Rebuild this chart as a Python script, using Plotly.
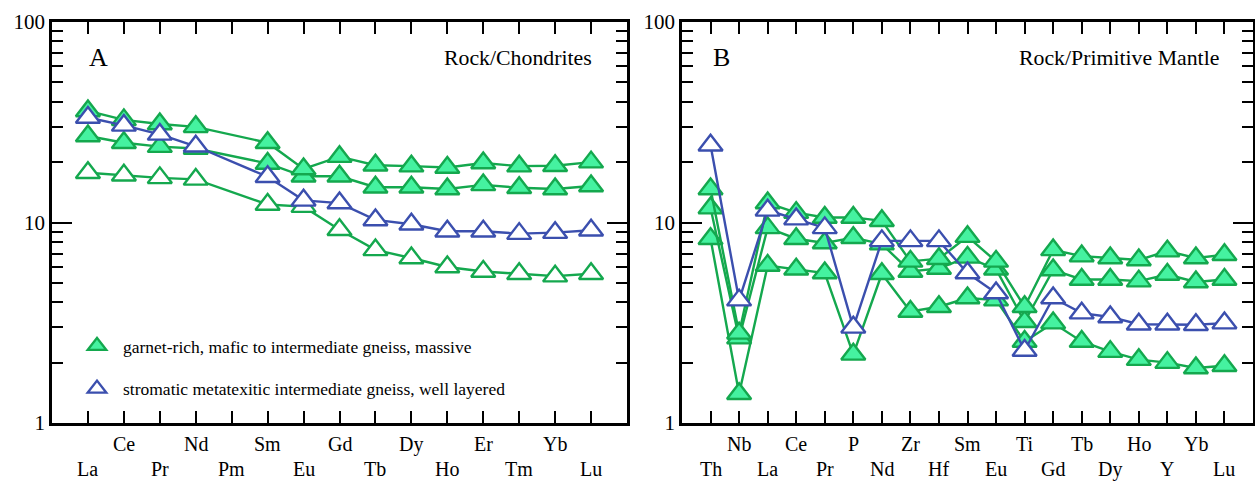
import plotly.graph_objects as go

# ---------------- data ----------------
ree_labels = ["La", "Ce", "Pr", "Nd", "Pm", "Sm", "Eu", "Gd", "Tb", "Dy", "Ho", "Er", "Tm", "Yb", "Lu"]
ree_g1 = [36.0, 32.5, 31.0, 30.0, None, 25.0, 18.5, 21.3, 19.3, 19.1, 18.8, 19.8, 19.1, 19.2, 20.0]
ree_g2 = [27.0, 25.0, 23.9, 23.4, None, 19.7, 17.0, 17.0, 15.0, 15.0, 14.7, 15.4, 14.9, 14.7, 15.2]
ree_g3 = [17.7, 17.2, 16.7, 16.4, None, 12.3, 12.0, 9.2, 7.3, 6.65, 6.0, 5.7, 5.55, 5.4, 5.55]
ree_blue = [33.4, 30.5, 27.5, 24.0, None, 16.9, 12.9, 12.5, 10.3, 9.8, 9.05, 9.05, 8.8, 8.9, 9.15]

pm_labels = ["Th", "Nb", "La", "Ce", "Pr", "P", "Nd", "Zr", "Hf", "Sm", "Eu", "Ti",
             "Gd", "Tb", "Dy", "Ho", "Y", "Yb", "Lu"]
pm_g1 = [14.7, 2.8, 12.5, 11.2, 10.6, 10.6, 10.2, 6.4, 6.6, 8.5, 6.4, 3.8, 7.3, 6.8, 6.65, 6.5, 7.2, 6.65, 6.9]
pm_g2 = [11.8, 2.65, 9.4, 8.3, 7.9, 8.4, 7.8, 5.7, 5.9, 6.7, 5.85, 3.2, 5.8, 5.2, 5.2, 5.1, 5.5, 5.05, 5.2]
pm_g3 = [8.3, 1.4, 6.1, 5.85, 5.6, 2.2, 5.55, 3.6, 3.8, 4.2, 4.1, 2.55, 3.15, 2.55, 2.27, 2.07, 2.0, 1.88, 1.93]
pm_blue = [24.3, 4.1, 11.5, 10.4, 9.4, 3.0, 8.1, 8.1, 8.1, 5.6, 4.45, 2.3, 4.2, 3.53, 3.38, 3.11, 3.11, 3.09, 3.15]

legend_names = ["garnet-rich, mafic to intermediate gneiss, massive",
                "stromatic metatexitic intermediate gneiss, well layered"]
y_tick_vals = [1, 10, 100]
y_tick_text = ["1", "10", "100"]

# ---------------- style ----------------
W, H = 1255, 484
FONT = "Liberation Serif"
GREEN_LINE = "#14a84e"
GREEN_FILL = "#45f2a0"
BLUE = "#3b4fae"
MS = 21
LW = 2.4

fig = go.Figure()


def marker(filled, color, size=MS):
    return dict(symbol="triangle-up", size=size,
                color=GREEN_FILL if filled else "white",
                line=dict(color=color, width=LW))


def add_series(x, y, xa, ya, filled, color):
    fig.add_trace(go.Scatter(
        x=x, y=y, xaxis=xa, yaxis=ya, mode="lines+markers", connectgaps=True,
        line=dict(color=color, width=LW), marker=marker(filled, color),
        showlegend=False, hoverinfo="skip"))


xa_idx = list(range(len(ree_labels)))
xb_idx = list(range(len(pm_labels)))

# Panel A
add_series(xa_idx, ree_g3, "x", "y", False, GREEN_LINE)
add_series(xa_idx, ree_g2, "x", "y", True, GREEN_LINE)
add_series(xa_idx, ree_g1, "x", "y", True, GREEN_LINE)
add_series(xa_idx, ree_blue, "x", "y", False, BLUE)
# Panel B
add_series(xb_idx, pm_g3, "x2", "y2", True, GREEN_LINE)
add_series(xb_idx, pm_g2, "x2", "y2", True, GREEN_LINE)
add_series(xb_idx, pm_g1, "x2", "y2", True, GREEN_LINE)
add_series(xb_idx, pm_blue, "x2", "y2", False, BLUE)

# legend entries (symbol only)
fig.add_trace(go.Scatter(x=[None], y=[None], mode="markers", marker=marker(True, GREEN_LINE),
                         name=legend_names[0], legendgroup="g", hoverinfo="skip"))
fig.add_trace(go.Scatter(x=[None], y=[None], mode="markers", marker=marker(False, BLUE),
                         name=legend_names[1], legendgroup="b", hoverinfo="skip"))

# geometry (pixels)
ax_l, ax_r = 52, 627
bx_l, bx_r = 682, 1253
y_top, y_bot = 22, 423

common_x = dict(showgrid=False, zeroline=False, showline=True, linecolor="black", linewidth=2.5,
                mirror="ticks", ticks="inside", ticklen=12, tickwidth=2, tickcolor="black",
                showticklabels=False, fixedrange=True, automargin=False)
common_y = dict(type="log", range=[0, 2], showgrid=False, zeroline=False, showline=True,
                linecolor="black", linewidth=2.5, mirror="ticks", ticks="inside",
                ticklen=20, tickwidth=2.2, tickcolor="black",
                tickvals=y_tick_vals, ticktext=y_tick_text,
                tickfont=dict(family=FONT, size=21, color="black"),
                minor=dict(ticks="inside", ticklen=11, tickwidth=2, tickcolor="black",
                           dtick="D1", showgrid=False),
                fixedrange=True, automargin=False)

ydom = [(H - y_bot) / H, (H - y_top) / H]
fig.update_layout(
    width=W, height=H, margin=dict(l=0, r=0, t=0, b=0, autoexpand=False),
    paper_bgcolor="white", plot_bgcolor="white",
    font=dict(family=FONT, color="black"),
    xaxis=dict(common_x, domain=[ax_l / W, ax_r / W], range=[-1, 15],
               tickvals=xa_idx),
    yaxis=dict(common_y, domain=ydom, anchor="x"),
    xaxis2=dict(common_x, domain=[bx_l / W, bx_r / W], range=[-1, 19],
                tickvals=xb_idx, anchor="y2"),
    yaxis2=dict(common_y, domain=ydom, anchor="x2"),
    legend=dict(x=71 / W, y=(H - 328) / H, xanchor="left", yanchor="top",
                bgcolor="rgba(0,0,0,0)", borderwidth=0, itemwidth=42,
                font=dict(family=FONT, size=17.5, color="black"),
                traceorder="grouped", tracegroupgap=17, itemsizing="trace"),
)

ann = []
# category labels in two staggered rows
for i, lab in enumerate(ree_labels):
    ann.append(dict(x=i, y=(H - (444 if i % 2 else 469)) / H, xref="x", yref="paper",
                    text=lab, showarrow=False, font=dict(family=FONT, size=20, color="black"),
                    xanchor="center", yanchor="middle"))
for i, lab in enumerate(pm_labels):
    ann.append(dict(x=i, y=(H - (444 if i % 2 else 469)) / H, xref="x2", yref="paper",
                    text=lab, showarrow=False, font=dict(family=FONT, size=20, color="black"),
                    xanchor="center", yanchor="middle"))
# panel letters and normalisation notes
ann += [
    dict(x=98 / W, y=(H - 57) / H, xref="paper", yref="paper", text="A", showarrow=False,
         font=dict(family=FONT, size=26, color="black"), xanchor="center", yanchor="middle"),
    dict(x=594 / W, y=(H - 58) / H, xref="paper", yref="paper", text="Rock/Chondrites",
         showarrow=False, font=dict(family=FONT, size=21.8, color="black"),
         xanchor="right", yanchor="middle"),
    dict(x=721 / W, y=(H - 57) / H, xref="paper", yref="paper", text="B", showarrow=False,
         font=dict(family=FONT, size=26, color="black"), xanchor="center", yanchor="middle"),
    dict(x=1221 / W, y=(H - 58) / H, xref="paper", yref="paper", text="Rock/Primitive Mantle",
         showarrow=False, font=dict(family=FONT, size=21.8, color="black"),
         xanchor="right", yanchor="middle"),
]
fig.update_layout(annotations=ann)

fig.write_html("out.html", config={"displayModeBar": False},
               post_script="document.body.style.margin='0';")
